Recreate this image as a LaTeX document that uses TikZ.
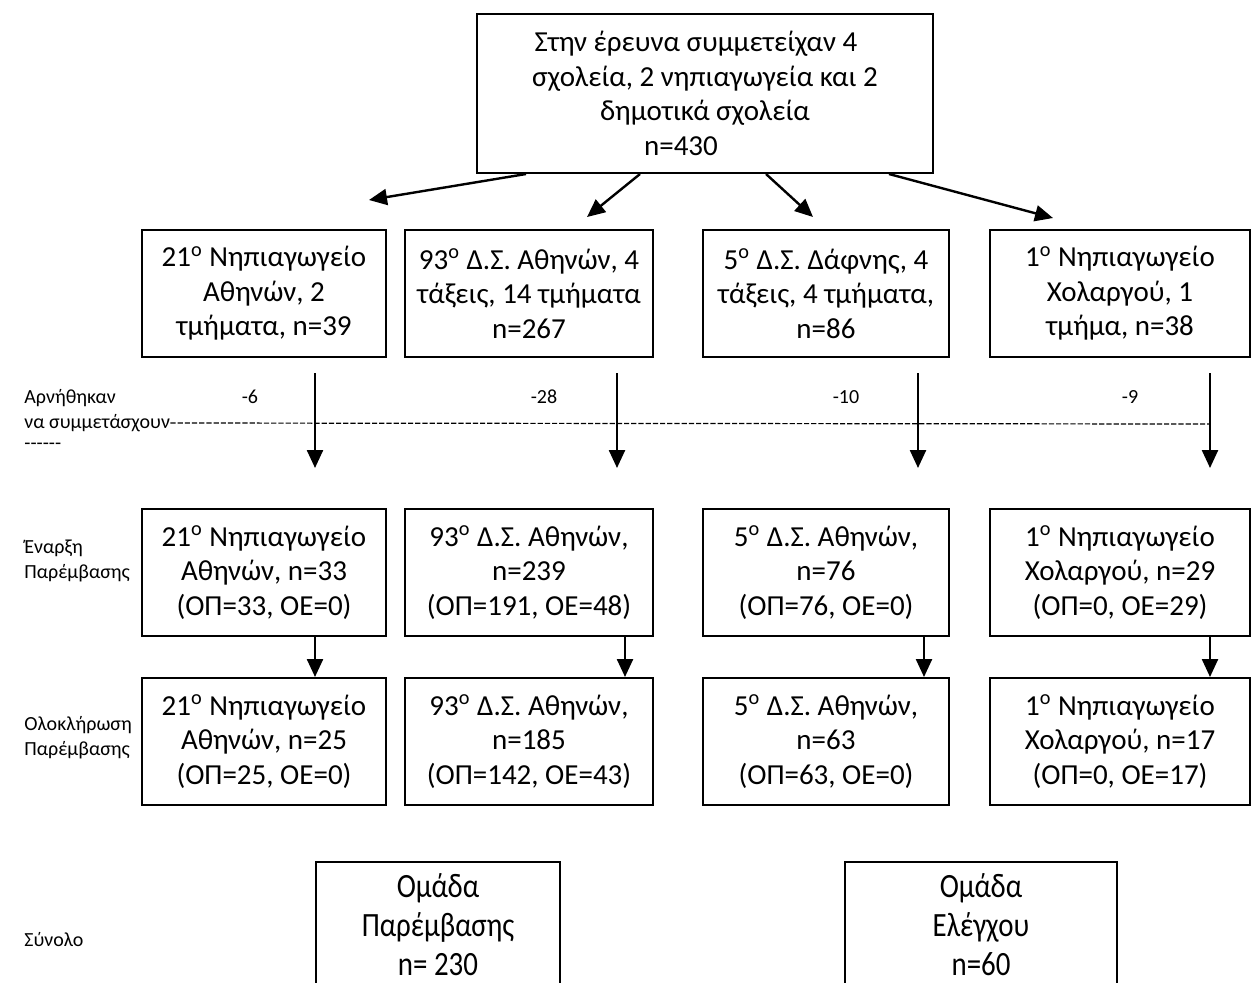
\documentclass[tikz,border=0pt]{standalone}
\usepackage{fontspec}
\setmainfont{Carlito}
\newfontfamily\narrowfont[FakeStretch=0.85]{Carlito}
\usetikzlibrary{arrows.meta, positioning}

\begin{document}
\begin{tikzpicture}[
    x=0.5pt, y=-0.5pt,
    box/.style={draw, line width=1pt, align=center, inner sep=0pt,
                font=\fontsize{14.5}{17.25}\selectfont},
    school/.style={box, minimum height=63.5pt},
    total/.style={box, anchor=north, minimum height=63pt,
                  font=\narrowfont\fontsize{17}{19.5}\selectfont},
    side/.style={anchor=west, inner sep=0pt, align=left,
                 font=\fontsize{10}{12.5}\selectfont},
    drop/.style={inner sep=0pt, font=\fontsize{10}{12.5}\selectfont},
    flow/.style={-{Triangle[width=8pt,length=9pt]}, line width=1.2pt},
    split/.style={-{Triangle[width=8pt,length=9pt]}, line width=1.2pt},
    hyph/.style={line width=0.6pt, dash pattern=on 2.6pt off 1pt}
]
    \useasboundingbox (0,0) rectangle (1252,982);
    \clip (0,0) rectangle (1252,982);

    % all schools
    \node[box, minimum width=228pt, minimum height=79.5pt] (survey) at (705,93.5)
        {Στην έρευνα συμμετείχαν 4\hspace*{9pt}\\ σχολεία, 2 νηπιαγωγεία και 2\\δημοτικά σχολεία\\n=430\hspace*{24pt}};

    % schools at the start
    \node[school, minimum width=122pt] (base21) at (264,293.5)
        {21\textsuperscript{ο} Νηπιαγωγείο\\Αθηνών, 2\\τμήματα, n=39};
    \node[school, minimum width=124pt] (base93) at (529,293.5)
        {93\textsuperscript{ο} Δ.Σ. Αθηνών, 4\\τάξεις, 14 τμήματα\\n=267};
    \node[school, minimum width=123pt] (base5) at (826,293.5)
        {5\textsuperscript{ο} Δ.Σ. Δάφνης, 4\\τάξεις, 4 τμήματα,\\n=86};
    \node[school, minimum width=130pt] (base1) at (1120,293.5)
        {1\textsuperscript{ο} Νηπιαγωγείο\\Χολαργού, 1\\τμήμα, n=38};

    \draw[split] ([shift={(-179,0)}]survey.south) -- ([shift={(105,-29)}]base21.north);
    \draw[split] ([shift={(-65,0)}]survey.south) -- ([shift={(58,-12)}]base93.north);
    \draw[split] ([shift={(61,0)}]survey.south) -- ([shift={(-13,-12)}]base5.north);
    \draw[split] ([shift={(184,0)}]survey.south) -- ([shift={(-67,-11)}]base1.north);

    % start of the intervention
    \node[school, minimum width=122pt] (start21) at (264,572.5)
        {21\textsuperscript{ο} Νηπιαγωγείο\\Αθηνών, n=33\\(ΟΠ=33, ΟΕ=0)};
    \node[school, minimum width=124pt] (start93) at (529,572.5)
        {93\textsuperscript{ο} Δ.Σ. Αθηνών,\\n=239\\(ΟΠ=191, ΟΕ=48)};
    \node[school, minimum width=123pt] (start5) at (826,572.5)
        {5\textsuperscript{ο} Δ.Σ. Αθηνών,\\n=76\\(ΟΠ=76, ΟΕ=0)};
    \node[school, minimum width=130pt] (start1) at (1120,572.5)
        {1\textsuperscript{ο} Νηπιαγωγείο\\Χολαργού, n=29\\(ΟΠ=0, ΟΕ=29)};

    % end of the intervention
    \node[school, minimum width=122pt] (end21) at (264,741.5)
        {21\textsuperscript{ο} Νηπιαγωγείο\\Αθηνών, n=25\\(ΟΠ=25, ΟΕ=0)};
    \node[school, minimum width=124pt] (end93) at (529,741.5)
        {93\textsuperscript{ο} Δ.Σ. Αθηνών,\\n=185\\(ΟΠ=142, ΟΕ=43)};
    \node[school, minimum width=123pt] (end5) at (826,741.5)
        {5\textsuperscript{ο} Δ.Σ. Αθηνών,\\n=63\\(ΟΠ=63, ΟΕ=0)};
    \node[school, minimum width=130pt] (end1) at (1120,741.5)
        {1\textsuperscript{ο} Νηπιαγωγείο\\Χολαργού, n=17\\(ΟΠ=0, ΟΕ=17)};

    % refusals
    \node[side] (refuse) at (24,398) {Αρνήθηκαν};
    \node[side] (refuse2) at (24,423) {να συμμετάσχουν};
    \node[side] (refuse3) at (24,446) {-{}-{}-{}-{}-{}-};
    \coordinate (dashend) at (1210,424);
    \draw[hyph] (refuse2.east) -- (dashend);

    \node[drop] (drop21) at (250,397) {-6};
    \node[drop] (drop93) at (544,397) {-28};
    \node[drop] (drop5) at (846,397) {-10};
    \node[drop] (drop1) at (1130,397) {-9};

    \draw[flow] ([shift={(51,15)}]base21.south) -- ([shift={(51,-40)}]start21.north);
    \draw[flow] ([shift={(88,15)}]base93.south) -- ([shift={(88,-40)}]start93.north);
    \draw[flow] ([shift={(92,15)}]base5.south) -- ([shift={(92,-40)}]start5.north);
    \draw[flow] ([shift={(90,15)}]base1.south) -- ([shift={(90,-40)}]start1.north);

    \draw[flow] ([shift={(51,0)}]start21.south) -- ([shift={(51,0)}]end21.north);
    \draw[flow] ([shift={(96,0)}]start93.south) -- ([shift={(96,0)}]end93.north);
    \draw[flow] ([shift={(98,0)}]start5.south) -- ([shift={(98,0)}]end5.north);
    \draw[flow] ([shift={(90,0)}]start1.south) -- ([shift={(90,0)}]end1.north);

    \node[side] (begin) at (24,561) {Έναρξη\\Παρέμβασης};
    \node[side] (finish) at (24,738) {Ολοκλήρωση\\Παρέμβασης};

    % totals
    \node[total, minimum width=122pt] (treated) at (438,861)
        {Ομάδα\\Παρέμβασης\\n= 230};
    \node[total, minimum width=136pt] (control) at (981,861)
        {Ομάδα\\Ελέγχου\\n=60};
    \node[side] (sum) at (24,940) {Σύνολο};
\end{tikzpicture}
\end{document}
